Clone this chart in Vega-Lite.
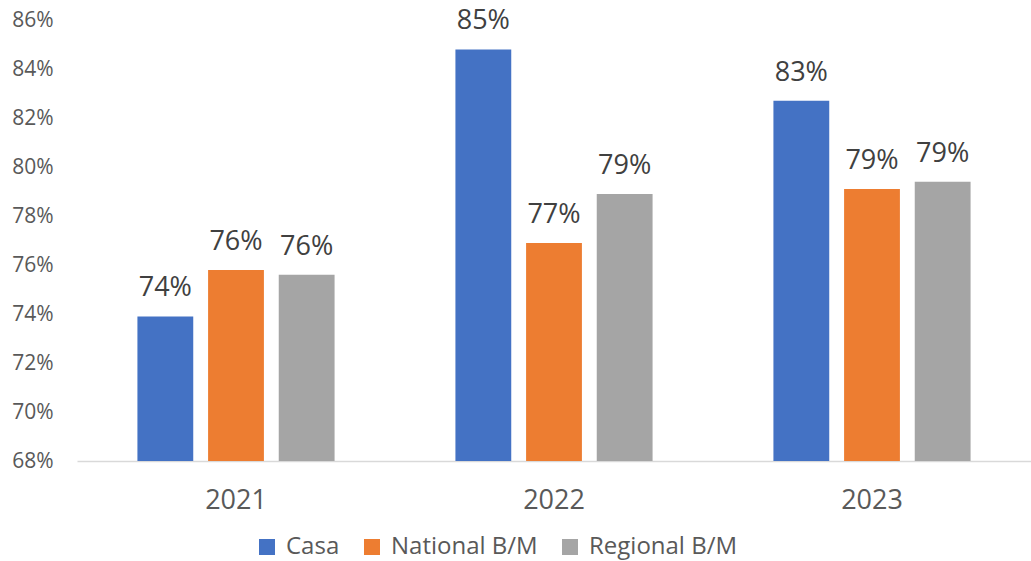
{
  "$schema": "https://vega.github.io/schema/vega-lite/v6.json",
  "autosize": {"type": "none"},
  "width": 954,
  "height": 441,
  "padding": {"left": 77, "top": 20, "right": 0, "bottom": 100},
  "background": "white",
  "config": {
    "view": {"stroke": null},
    "font": "Open Sans",
    "legend": {"padding": 0}
  },
  "data": {
    "values": [
      {"year": "2021", "series": "Casa", "value": 0.739},
      {"year": "2021", "series": "National B/M", "value": 0.758},
      {"year": "2021", "series": "Regional B/M", "value": 0.756},
      {"year": "2022", "series": "Casa", "value": 0.848},
      {"year": "2022", "series": "National B/M", "value": 0.769},
      {"year": "2022", "series": "Regional B/M", "value": 0.789},
      {"year": "2023", "series": "Casa", "value": 0.827},
      {"year": "2023", "series": "National B/M", "value": 0.791},
      {"year": "2023", "series": "Regional B/M", "value": 0.794}
    ]
  },
  "encoding": {
    "x": {
      "field": "year",
      "type": "nominal",
      "scale": {"paddingInner": 0.38, "paddingOuter": 0.19},
      "axis": {
        "title": null,
        "labelAngle": 0,
        "labelFontSize": 27,
        "labelColor": "#595959",
        "labelPadding": 26,
        "ticks": false,
        "domainColor": "#D9D9D9",
        "domainWidth": 1.5,
        "grid": false
      }
    },
    "xOffset": {
      "field": "series",
      "type": "nominal",
      "scale": {"paddingInner": 0.21, "paddingOuter": 0}
    },
    "y": {
      "field": "value",
      "type": "quantitative",
      "scale": {"domain": [0.68, 0.86], "zero": false, "nice": false},
      "axis": {
        "title": null,
        "format": ".0%",
        "values": [0.68, 0.70, 0.72, 0.74, 0.76, 0.78, 0.80, 0.82, 0.84, 0.86],
        "labelFontSize": 21,
        "labelColor": "#595959",
        "labelPadding": 24,
        "ticks": false,
        "domain": false,
        "grid": false
      }
    }
  },
  "layer": [
    {
      "mark": {"type": "bar"},
      "encoding": {
        "y2": {"datum": 0.68},
        "color": {
          "field": "series",
          "type": "nominal",
          "scale": {
            "domain": ["Casa", "National B/M", "Regional B/M"],
            "range": ["#4472C4", "#ED7D31", "#A5A5A5"]
          },
          "legend": {
            "title": null,
            "orient": "none",
            "direction": "horizontal",
            "legendX": 178,
            "legendY": 515,
            "symbolType": "square",
            "symbolSize": 256,
            "symbolStrokeWidth": 0,
            "labelFontSize": 24,
            "labelColor": "#595959",
            "labelOffset": 7,
            "columnPadding": 20
          }
        }
      }
    },
    {
      "mark": {"type": "text", "baseline": "alphabetic", "dy": -20, "fontSize": 27, "color": "#404040"},
      "encoding": {
        "text": {"field": "value", "type": "quantitative", "format": ".0%"}
      }
    }
  ]
}
